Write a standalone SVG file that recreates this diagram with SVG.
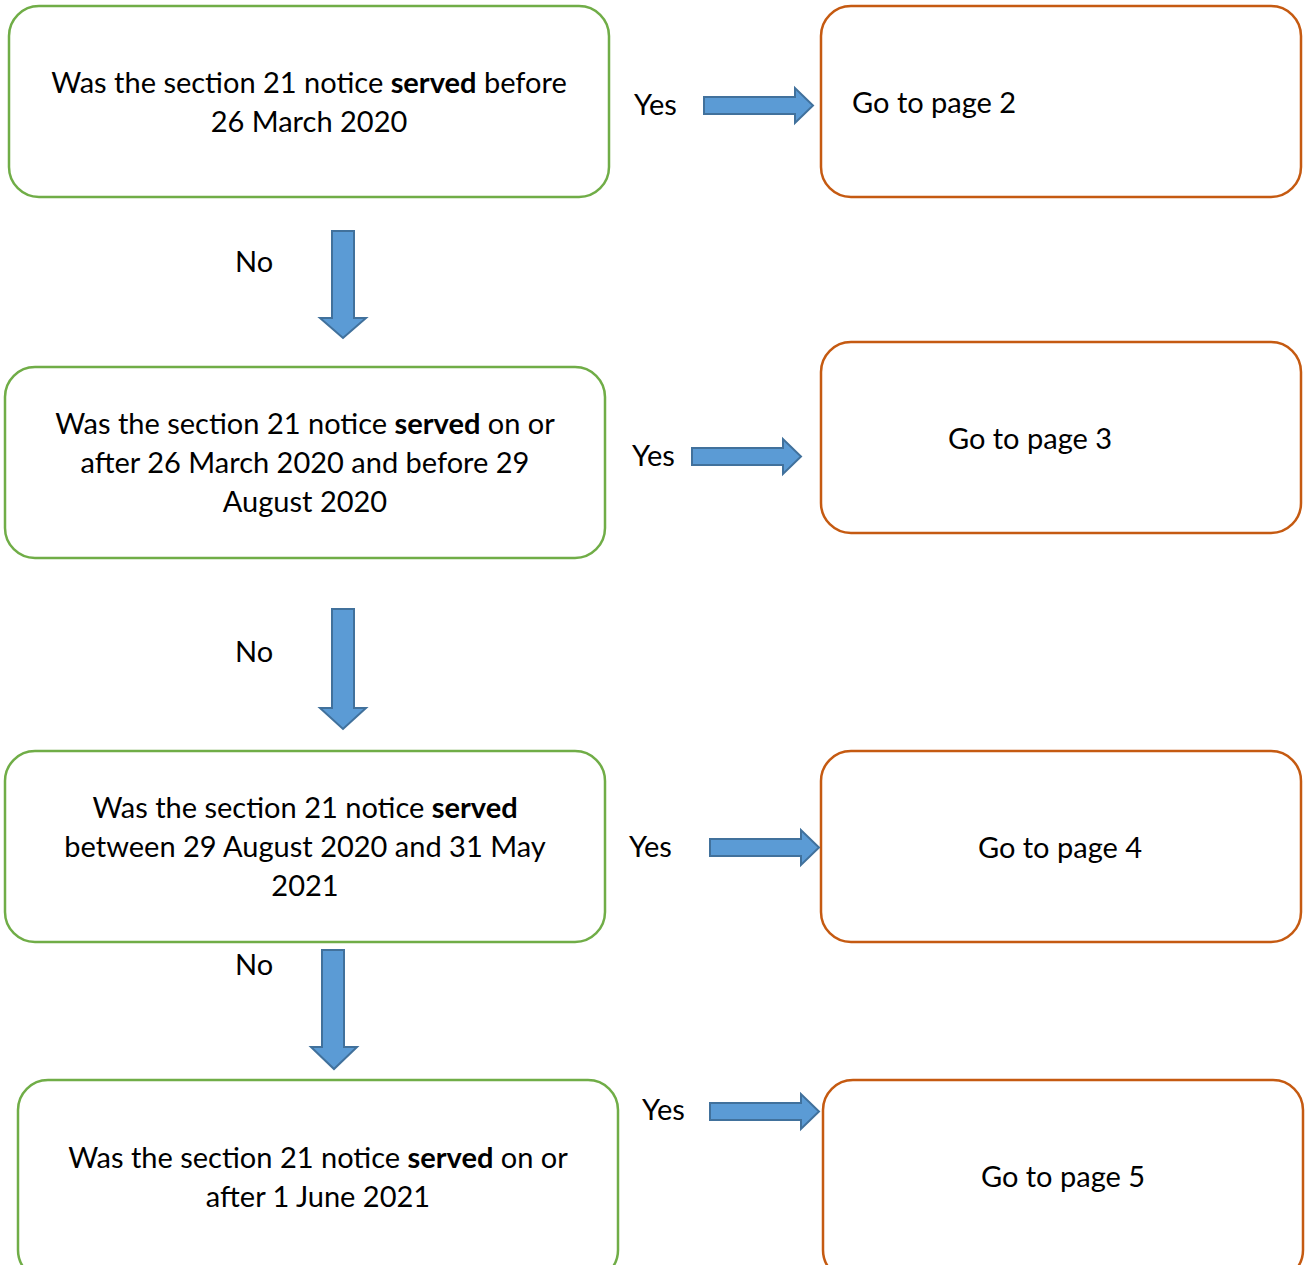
<svg xmlns="http://www.w3.org/2000/svg" width="1307" height="1265" viewBox="0 0 1307 1265">
<style>
.q{fill:#fff;stroke:#70AD47;stroke-width:2.5}
.a{fill:#fff;stroke:#C55A11;stroke-width:2.5}
.ar{fill:#5B9BD5;stroke:#41719C;stroke-width:2}
text{font-family:Lato,"Open Sans",sans-serif;font-size:29px;fill:#000}
.c{text-anchor:middle}
.b{font-weight:bold}
</style>
<rect width="1307" height="1265" fill="#fff"/>
<g id="q1"><rect class="q" x="9" y="6" width="600" height="191" rx="30"/>
<text class="c" x="309" y="93">Was the section 21 notice <tspan class="b">served</tspan> before</text>
<text class="c" x="309" y="132">26 March 2020</text></g>
<g id="p2"><rect class="a" x="821" y="6" width="480" height="191" rx="30"/>
<text x="852" y="113">Go to page 2</text></g>
<g id="q2"><rect class="q" x="5" y="367" width="600" height="191" rx="30"/>
<text class="c" x="305" y="434">Was the section 21 notice <tspan class="b">served</tspan> on or</text>
<text class="c" x="305" y="473">after 26 March 2020 and before 29</text>
<text class="c" x="305" y="512">August 2020</text></g>
<g id="p3"><rect class="a" x="821" y="342" width="480" height="191" rx="30"/>
<text class="c" x="1030" y="449">Go to page 3</text></g>
<g id="q3"><rect class="q" x="5" y="751" width="600" height="191" rx="30"/>
<text class="c" x="305" y="818">Was the section 21 notice <tspan class="b">served</tspan></text>
<text class="c" x="305" y="857">between 29 August 2020 and 31 May</text>
<text class="c" x="305" y="896">2021</text></g>
<g id="p4"><rect class="a" x="821" y="751" width="480" height="191" rx="30"/>
<text class="c" x="1060" y="858">Go to page 4</text></g>
<g id="q4"><rect class="q" x="18" y="1080" width="600" height="200" rx="30"/>
<text class="c" x="318" y="1168">Was the section 21 notice <tspan class="b">served</tspan> on or</text>
<text class="c" x="318" y="1207">after 1 June 2021</text></g>
<g id="p5"><rect class="a" x="823" y="1080" width="480" height="200" rx="30"/>
<text class="c" x="1063" y="1187">Go to page 5</text></g>
<g id="connectors">
<path class="ar" d="M704,97 H795 V88 L813,105.5 L795,123 V114 H704 Z"/>
<path class="ar" d="M692,448 H783 V439 L801,456.5 L783,474 V465 H692 Z"/>
<path class="ar" d="M710,839 H801 V830 L819,847.5 L801,865 V856 H710 Z"/>
<path class="ar" d="M710,1103 H801 V1094 L819,1111.5 L801,1129 V1120 H710 Z"/>
<path class="ar" d="M332,231 H354 V318 H366 L343,338 L320,318 H332 Z"/>
<path class="ar" d="M332,609 H354 V708 H366 L343,729 L320,708 H332 Z"/>
<path class="ar" d="M322,950 H344 V1047 H357 L334,1069 L311,1047 H322 Z"/>
<text x="634" y="115">Yes</text>
<text x="632" y="466">Yes</text>
<text x="629" y="857">Yes</text>
<text x="642" y="1120">Yes</text>
<text x="235" y="272">No</text>
<text x="235" y="662">No</text>
<text x="235" y="975">No</text>
</g>
</svg>
